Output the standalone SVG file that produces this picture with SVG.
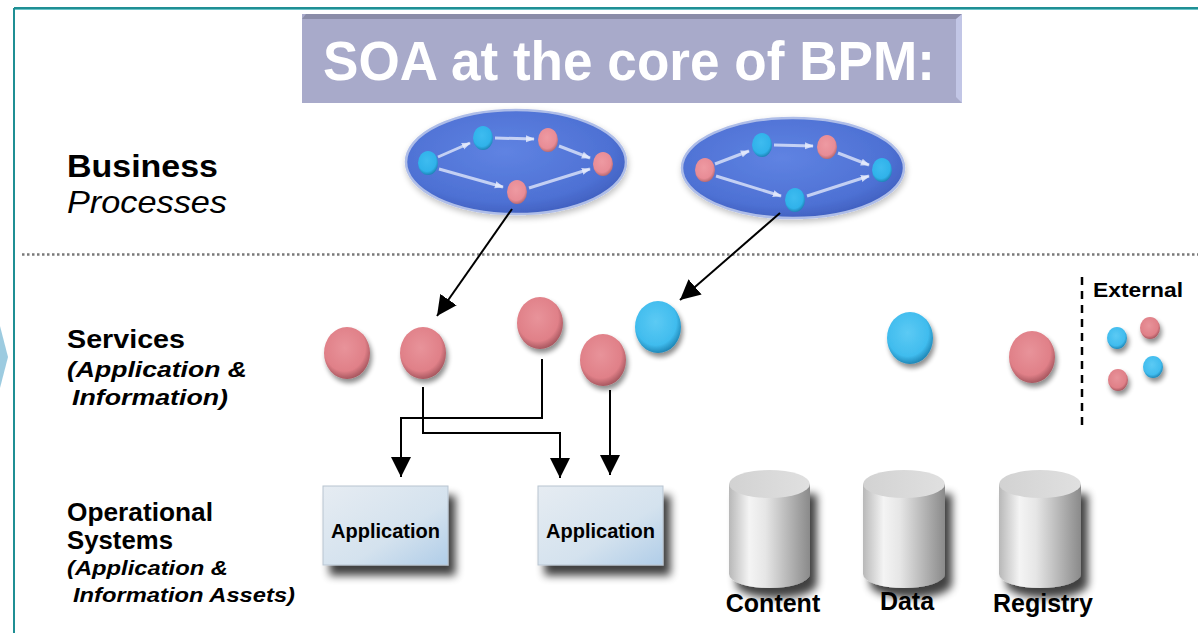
<svg xmlns="http://www.w3.org/2000/svg" width="1198" height="633" viewBox="0 0 1198 633">
<defs>
<style>
.lbl{font-family:"Liberation Sans",Arial,sans-serif;fill:#000}
.b{font-weight:bold}
.i{font-style:italic}
.conn{fill:none;stroke:#000;stroke-width:2}
.flow{stroke:#e8eefc;stroke-width:3;stroke-opacity:0.75;fill:none}
</style>
<radialGradient id="procG" cx="0.45" cy="0.4" r="0.6">
<stop offset="0" stop-color="#5f83e2"/><stop offset="0.8" stop-color="#4e71d4"/><stop offset="1" stop-color="#4262c2"/>
</radialGradient>
<radialGradient id="redG" cx="0.45" cy="0.4" r="0.6">
<stop offset="0" stop-color="#ee9aa2"/><stop offset="0.75" stop-color="#e88c96"/><stop offset="1" stop-color="#b86a72"/>
</radialGradient>
<radialGradient id="blueG" cx="0.45" cy="0.4" r="0.6">
<stop offset="0" stop-color="#3ebcf0"/><stop offset="0.75" stop-color="#30b2ea"/><stop offset="1" stop-color="#1e85b8"/>
</radialGradient>
<radialGradient id="sredG" cx="0.45" cy="0.4" r="0.6">
<stop offset="0" stop-color="#e8939a"/><stop offset="0.75" stop-color="#e08088"/><stop offset="1" stop-color="#a85860"/>
</radialGradient>
<radialGradient id="sblueG" cx="0.45" cy="0.4" r="0.6">
<stop offset="0" stop-color="#5ccaf4"/><stop offset="0.75" stop-color="#40bcee"/><stop offset="1" stop-color="#2088b8"/>
</radialGradient>
<linearGradient id="appG" x1="0" y1="0" x2="1" y2="1">
<stop offset="0" stop-color="#e6ecf2"/><stop offset="0.6" stop-color="#d4e2ee"/><stop offset="1" stop-color="#b0cde8"/>
</linearGradient>
<linearGradient id="cylG" x1="0" y1="0" x2="1" y2="0">
<stop offset="0" stop-color="#b8b8b8"/><stop offset="0.25" stop-color="#f4f4f4"/><stop offset="0.45" stop-color="#e6e6e6"/><stop offset="1" stop-color="#8a8a8a"/>
</linearGradient>
<linearGradient id="cylTop" x1="0" y1="0" x2="1" y2="0">
<stop offset="0" stop-color="#d2d2d2"/><stop offset="1" stop-color="#e0e0e0"/>
</linearGradient>
<filter id="sh" x="-30%" y="-30%" width="170%" height="180%">
<feGaussianBlur in="SourceAlpha" stdDeviation="4"/>
<feOffset dx="7" dy="10" result="o"/>
<feComponentTransfer><feFuncA type="linear" slope="0.75"/></feComponentTransfer>
<feMerge><feMergeNode/><feMergeNode in="SourceGraphic"/></feMerge>
</filter>
<filter id="shs" x="-40%" y="-40%" width="190%" height="190%">
<feGaussianBlur in="SourceAlpha" stdDeviation="2.5"/>
<feOffset dx="2" dy="4" result="o"/>
<feComponentTransfer><feFuncA type="linear" slope="0.45"/></feComponentTransfer>
<feMerge><feMergeNode/><feMergeNode in="SourceGraphic"/></feMerge>
</filter>
<filter id="shp" x="-20%" y="-30%" width="140%" height="170%">
<feGaussianBlur in="SourceAlpha" stdDeviation="3"/>
<feOffset dx="1" dy="3" result="o"/>
<feComponentTransfer><feFuncA type="linear" slope="0.25"/></feComponentTransfer>
<feMerge><feMergeNode/><feMergeNode in="SourceGraphic"/></feMerge>
</filter>
<marker id="ahb" viewBox="0 0 10 10" refX="10" refY="5" markerWidth="20" markerHeight="20" markerUnits="userSpaceOnUse" orient="auto">
<path d="M0,0 L10,5 L0,10 z" fill="#000"/>
</marker>
<marker id="fa" viewBox="0 0 10 10" refX="9" refY="5" markerWidth="9" markerHeight="9" markerUnits="userSpaceOnUse" orient="auto">
<path d="M0,1 L10,5 L0,9 z" fill="#e8eefc" fill-opacity="0.8"/>
</marker>
</defs>

<rect width="1198" height="633" fill="#fff"/>

<g id="frame">
<line x1="14" y1="8" x2="1198" y2="8" stroke="#1f8f94" stroke-width="2"/>
<line x1="14" y1="9.5" x2="1198" y2="9.5" stroke="#6cc4c8" stroke-width="1"/>
<line x1="14" y1="8" x2="14" y2="633" stroke="#1f8f94" stroke-width="2"/>
<polygon points="0,326 0,388 8,357" fill="#9ccbe0"/>
<line x1="22" y1="254.5" x2="1198" y2="254.5" stroke="#7a7a7a" stroke-width="2.5" stroke-dasharray="2.5,2.5"/>
</g>

<g id="title">
<rect x="302" y="14" width="660" height="89" fill="#a8aaca"/>
<polygon points="302,19 306,14 962,14 958,19" fill="#8a8ca8"/>
<polygon points="956,19 962,14 962,103 956,97" fill="#c2c6e6"/>
<text x="629" y="80" text-anchor="middle" font-family="Liberation Sans,Arial,sans-serif" font-weight="bold" font-size="56" fill="#fff" textLength="612" lengthAdjust="spacingAndGlyphs">SOA at the core of BPM:</text>
</g>

<g id="label-business">
<text class="lbl b" x="67" y="177" font-size="32" textLength="151" lengthAdjust="spacingAndGlyphs">Business</text>
<text class="lbl i" x="67" y="213" font-size="32" textLength="160" lengthAdjust="spacingAndGlyphs">Processes</text>
</g>
<g id="label-services">
<text class="lbl b" x="67" y="348" font-size="25" textLength="118" lengthAdjust="spacingAndGlyphs">Services</text>
<text class="lbl b i" x="67" y="377" font-size="22" textLength="180" lengthAdjust="spacingAndGlyphs">(Application &amp;</text>
<text class="lbl b i" x="72" y="405" font-size="22" textLength="156" lengthAdjust="spacingAndGlyphs">Information)</text>
</g>
<g id="label-operational">
<text class="lbl b" x="67" y="521" font-size="25" textLength="146" lengthAdjust="spacingAndGlyphs">Operational</text>
<text class="lbl b" x="67" y="549" font-size="25" textLength="106" lengthAdjust="spacingAndGlyphs">Systems</text>
<text class="lbl b i" x="67" y="575" font-size="21" textLength="161" lengthAdjust="spacingAndGlyphs">(Application &amp;</text>
<text class="lbl b i" x="73" y="602" font-size="21" textLength="222" lengthAdjust="spacingAndGlyphs">Information Assets)</text>
</g>

<g id="process-1">
<ellipse cx="516" cy="162" rx="110" ry="52" fill="url(#procG)" stroke="#aebde8" stroke-width="2.5" filter="url(#shp)"/>
<line class="flow" x1="438" y1="157" x2="470" y2="143" marker-end="url(#fa)"/>
<line class="flow" x1="495" y1="138" x2="534" y2="139" marker-end="url(#fa)"/>
<line class="flow" x1="559" y1="146" x2="590" y2="158" marker-end="url(#fa)"/>
<line class="flow" x1="439" y1="169" x2="503" y2="187" marker-end="url(#fa)"/>
<line class="flow" x1="529" y1="188" x2="590" y2="169" marker-end="url(#fa)"/>
<ellipse cx="428" cy="163" rx="10" ry="12" fill="url(#blueG)"/>
<ellipse cx="483" cy="138" rx="10" ry="12" fill="url(#blueG)"/>
<ellipse cx="548" cy="140" rx="10" ry="12" fill="url(#redG)"/>
<ellipse cx="603" cy="164" rx="10" ry="12" fill="url(#redG)"/>
<ellipse cx="517" cy="192" rx="10" ry="12" fill="url(#redG)"/>
</g>
<g id="process-2">
<ellipse cx="793" cy="168" rx="111" ry="50" fill="url(#procG)" stroke="#aebde8" stroke-width="2.5" filter="url(#shp)"/>
<line class="flow" x1="715" y1="164" x2="749" y2="151" marker-end="url(#fa)"/>
<line class="flow" x1="774" y1="145" x2="813" y2="146" marker-end="url(#fa)"/>
<line class="flow" x1="838" y1="153" x2="869" y2="165" marker-end="url(#fa)"/>
<line class="flow" x1="716" y1="176" x2="781" y2="196" marker-end="url(#fa)"/>
<line class="flow" x1="807" y1="196" x2="869" y2="176" marker-end="url(#fa)"/>
<ellipse cx="705" cy="170" rx="10" ry="12" fill="url(#redG)"/>
<ellipse cx="762" cy="145" rx="10" ry="12" fill="url(#blueG)"/>
<ellipse cx="827" cy="147" rx="10" ry="12" fill="url(#redG)"/>
<ellipse cx="882" cy="170" rx="10" ry="12" fill="url(#blueG)"/>
<ellipse cx="795" cy="200" rx="10" ry="12" fill="url(#blueG)"/>
</g>

<g id="service-1"><ellipse cx="347" cy="353" rx="23" ry="26" fill="url(#sredG)" filter="url(#shs)"/></g>
<g id="service-2"><ellipse cx="423" cy="353" rx="23" ry="26" fill="url(#sredG)" filter="url(#shs)"/></g>
<g id="service-3"><ellipse cx="540" cy="323" rx="23" ry="26" fill="url(#sredG)" filter="url(#shs)"/></g>
<g id="service-4"><ellipse cx="603" cy="360" rx="23" ry="26" fill="url(#sredG)" filter="url(#shs)"/></g>
<g id="service-5"><ellipse cx="658" cy="327" rx="23" ry="26" fill="url(#sblueG)" filter="url(#shs)"/></g>
<g id="service-6"><ellipse cx="910" cy="338" rx="23" ry="26" fill="url(#sblueG)" filter="url(#shs)"/></g>
<g id="service-7"><ellipse cx="1032" cy="357" rx="23" ry="26" fill="url(#sredG)" filter="url(#shs)"/></g>

<g id="external">
<line x1="1082" y1="277" x2="1082" y2="430" stroke="#000" stroke-width="2.5" stroke-dasharray="8,6"/>
<text class="lbl b" x="1093" y="297" font-size="20" textLength="90" lengthAdjust="spacingAndGlyphs">External</text>
<ellipse cx="1117" cy="338" rx="10" ry="11" fill="url(#sblueG)" filter="url(#shs)"/>
<ellipse cx="1150" cy="328" rx="10" ry="11" fill="url(#sredG)" filter="url(#shs)"/>
<ellipse cx="1118" cy="380" rx="10" ry="11" fill="url(#sredG)" filter="url(#shs)"/>
<ellipse cx="1153" cy="367" rx="10" ry="11" fill="url(#sblueG)" filter="url(#shs)"/>
</g>

<g id="app-1">
<rect x="323" y="486" width="125" height="79" fill="url(#appG)" stroke="#b8c4d0" stroke-width="1" filter="url(#sh)"/>
<text class="lbl b" x="385.5" y="538" font-size="20" text-anchor="middle">Application</text>
</g>
<g id="app-2">
<rect x="538" y="486" width="125" height="79" fill="url(#appG)" stroke="#b8c4d0" stroke-width="1" filter="url(#sh)"/>
<text class="lbl b" x="600.5" y="538" font-size="20" text-anchor="middle">Application</text>
</g>
<g id="db-content">
<path d="M729,484 L729,574 A40.5,14 0 0 0 810,574 L810,484 Z" fill="url(#cylG)" filter="url(#sh)"/>
<ellipse cx="769.5" cy="484" rx="40.5" ry="14" fill="url(#cylTop)"/>
<text class="lbl b" x="773" y="612" font-size="25" text-anchor="middle">Content</text>
</g>
<g id="db-data">
<path d="M863,484 L863,574 A41,14 0 0 0 945,574 L945,484 Z" fill="url(#cylG)" filter="url(#sh)"/>
<ellipse cx="904" cy="484" rx="41" ry="14" fill="url(#cylTop)"/>
<text class="lbl b" x="907" y="610" font-size="25" text-anchor="middle">Data</text>
</g>
<g id="db-registry">
<path d="M999,484 L999,574 A41,14 0 0 0 1081,574 L1081,484 Z" fill="url(#cylG)" filter="url(#sh)"/>
<ellipse cx="1040" cy="484" rx="41" ry="14" fill="url(#cylTop)"/>
<text class="lbl b" x="1043" y="612" font-size="25" text-anchor="middle">Registry</text>
</g>

<g id="connectors">
<path class="conn" d="M512,209 L437,316" marker-end="url(#ahb)"/>
<path class="conn" d="M780,213 L680,300" marker-end="url(#ahb)"/>
<path class="conn" d="M423,387 L423,433 L560,433 L560,478" marker-end="url(#ahb)"/>
<path class="conn" d="M542,359 L542,418 L401,418 L401,477" marker-end="url(#ahb)"/>
<path class="conn" d="M610,390 L610,475" marker-end="url(#ahb)"/>
</g>
</svg>
